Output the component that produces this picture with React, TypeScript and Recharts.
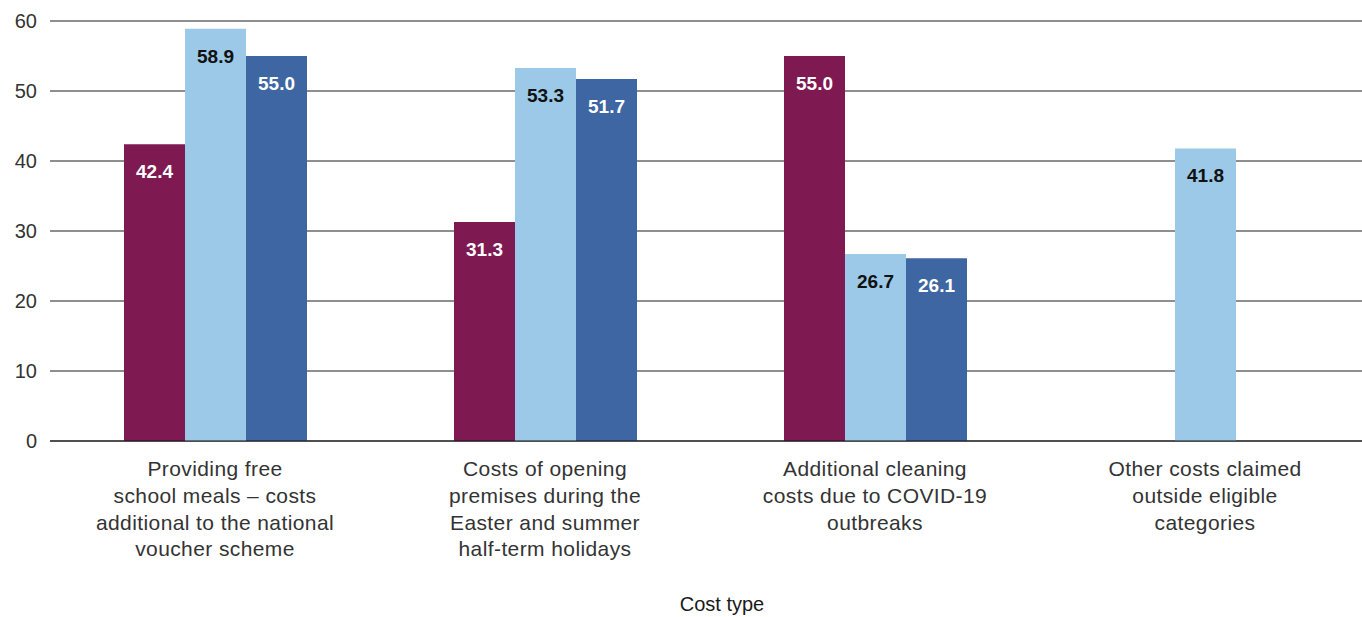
import { Bar, BarChart, CartesianGrid, LabelList, XAxis, YAxis } from 'recharts'

const categories = [
  ['Providing free', 'school meals – costs', 'additional to the national', 'voucher scheme'],
  ['Costs of opening', 'premises during the', 'Easter and summer', 'half-term holidays'],
  ['Additional cleaning', 'costs due to COVID-19', 'outbreaks'],
  ['Other costs claimed', 'outside eligible', 'categories'],
]
const seriesA: Array<number | null> = [42.4, 31.3, 55.0, null]
const seriesB: Array<number | null> = [58.9, 53.3, 26.7, 41.8]
const seriesC: Array<number | null> = [55.0, 51.7, 26.1, null]
const yTicks = [0, 10, 20, 30, 40, 50, 60]

const data = categories.map((lines, i) => ({
  name: lines.join(' '),
  lines,
  a: seriesA[i],
  b: seriesB[i],
  c: seriesC[i],
}))

const FONT = '"Liberation Sans", Arial, sans-serif'

function CategoryTick(props: any) {
  const { x, y, payload, index } = props
  const lines = categories[index] ?? [payload.value]
  return (
    <text
      x={x}
      y={y}
      textAnchor="middle"
      fill="#333"
      fontSize={21}
      letterSpacing={0.4}
      fontFamily={FONT}
    >
      {lines.map((line: string, i: number) => (
        <tspan key={i} x={x} dy={i === 0 ? 27 : 26.8}>
          {line}
        </tspan>
      ))}
    </text>
  )
}

function valueLabel(color: string) {
  return (props: any) => {
    const { x, y, width, value } = props
    if (value == null) return null
    return (
      <text
        x={x + width / 2}
        y={y + 20 + 14}
        textAnchor="middle"
        fill={color}
        fontSize={19}
        fontWeight="bold"
        fontFamily={FONT}
      >
        {Number(value).toFixed(1)}
      </text>
    )
  }
}

export default function App() {
  return (
    <div
      style={{
        position: 'absolute',
        left: 0,
        top: 0,
        width: 1362,
        height: 617,
        overflow: 'hidden',
        background: '#fff',
      }}
    >
      <BarChart
        width={1372}
        height={617}
        data={data}
        margin={{ top: 21, right: 2, left: 0, bottom: 0 }}
        barGap={0}
        barSize={61}
      >
        <CartesianGrid vertical={false} stroke="#1f1f1f" />
        <XAxis
          dataKey="name"
          height={176}
          tickLine={false}
          axisLine={{ stroke: '#111' }}
          tick={<CategoryTick />}
          interval={0}
          label={{
            value: 'Cost type',
            position: 'insideBottom',
            offset: 6,
            dx: 12,
            fill: '#1a1a1a',
            fontSize: 20,
            fontFamily: FONT,
          }}
        />
        <YAxis
          width={50}
          domain={[0, 60]}
          ticks={yTicks}
          axisLine={false}
          tickLine={false}
          tickMargin={7}
          tick={{ fill: '#333', fontSize: 20, fontFamily: FONT }}
        />
        <Bar dataKey="a" fill="#7e1952" isAnimationActive={false}>
          <LabelList dataKey="a" content={valueLabel('#ffffff')} />
        </Bar>
        <Bar dataKey="b" fill="#9bc9e7" isAnimationActive={false}>
          <LabelList dataKey="b" content={valueLabel('#111111')} />
        </Bar>
        <Bar dataKey="c" fill="#3e66a2" isAnimationActive={false}>
          <LabelList dataKey="c" content={valueLabel('#ffffff')} />
        </Bar>
      </BarChart>
    </div>
  )
}
